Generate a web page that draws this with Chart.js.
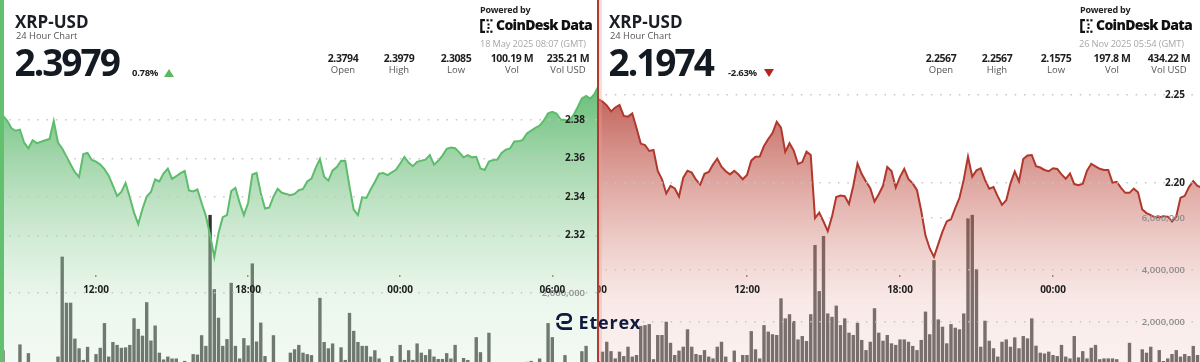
<!DOCTYPE html>
<html><head><meta charset="utf-8">
<script src="https://cdn.jsdelivr.net/npm/chart.js@4.4.1/dist/chart.umd.min.js"></script>
<style>
html,body{margin:0;padding:0;}
body{width:1200px;height:362px;overflow:hidden;position:relative;background:#fff;font-family:'Open Sans',sans-serif;color:#1a1d23;}
.abs{position:absolute;white-space:nowrap;line-height:1;}
.panel{position:absolute;top:0;height:362px;overflow:hidden;}
.panel canvas{position:absolute;top:0;}
.tri{position:absolute;width:0;height:0;border-left:5px solid transparent;border-right:5px solid transparent;}
.up{border-bottom:8px solid #5cb85c;}
.down{border-top:8px solid #b3261e;}
.sv{position:absolute;width:70px;text-align:center;font-size:10.5px;font-weight:700;color:#1e1e1e;line-height:1;letter-spacing:-0.4px;}
.sl{position:absolute;width:70px;text-align:center;font-size:9.5px;color:#555;line-height:1;}
.pw{font-size:9px;font-weight:700;color:#222;letter-spacing:-0.2px;}
.cd{font-size:14px;font-weight:800;color:#111;letter-spacing:-0.7px;}
.dt{font-size:9.3px;color:#a8a8a8;letter-spacing:-0.15px;}
</style></head>
<body>
<div class="panel" style="left:0;width:597px;"><canvas id="c1" width="598" height="400" style="left:0"></canvas></div>
<div class="panel" style="left:599px;width:601px;"><canvas id="c2" width="641" height="400" style="left:-40px"></canvas></div>
<div class="abs" style="left:0;top:0;width:4px;height:362px;background:#62c06e"></div>
<div class="abs" style="left:597px;top:0;width:2px;height:362px;background:#b23b31"></div>
<div class="abs" style="left:599px;top:0;width:3px;height:362px;background:rgba(235,160,150,0.35)"></div>

<!-- left header -->
<div class="abs" style="left:15px;top:13px;font-size:17px;font-weight:700;">XRP-USD</div>
<div class="abs" style="left:16px;top:31px;font-size:9.3px;color:#555;">24 Hour Chart</div>
<div class="abs" style="left:14.5px;top:43px;font-size:37px;font-weight:700;letter-spacing:-2px;color:#141a22;">2.3979</div>
<div class="abs" style="left:132px;top:67.5px;font-size:9.5px;font-weight:700;color:#222;letter-spacing:-0.3px;">0.78%</div>
<div class="tri up" style="left:164px;top:68.5px"></div>
<div class="abs pw" style="left:480px;top:4.5px;">Powered by</div>
<svg class="abs" style="left:480px;top:19px" width="14" height="14" viewBox="0 0 14 14"><path d="M5 1.2H1.3V12.8H5" fill="none" stroke="#111" stroke-width="2.2"/><rect x="6.5" y="0.2" width="2.2" height="2.2" fill="#111"/><rect x="10.3" y="0.2" width="2.2" height="2.2" fill="#111"/><rect x="7.5" y="4.5" width="2" height="2" fill="#111"/><rect x="7.5" y="8" width="2" height="2" fill="#111"/><rect x="6.5" y="11.6" width="2.2" height="2.2" fill="#111"/><rect x="10.3" y="11.6" width="2.2" height="2.2" fill="#111"/></svg>
<div class="abs cd" style="left:496px;top:18px;">CoinDesk Data</div>
<div class="abs dt" style="left:480px;top:38.5px;">18 May 2025 08:07 (GMT)</div>
<div class="sv" style="left:308px;top:52.5px">2.3794</div><div class="sl" style="left:308px;top:65px">Open</div>
<div class="sv" style="left:364px;top:52.5px">2.3979</div><div class="sl" style="left:364px;top:65px">High</div>
<div class="sv" style="left:421px;top:52.5px">2.3085</div><div class="sl" style="left:421px;top:65px">Low</div>
<div class="sv" style="left:477px;top:52.5px">100.19 M</div><div class="sl" style="left:477px;top:65px">Vol</div>
<div class="sv" style="left:533px;top:52.5px">235.21 M</div><div class="sl" style="left:533px;top:65px">Vol USD</div>

<!-- right header -->
<div class="abs" style="left:609px;top:13px;font-size:17px;font-weight:700;">XRP-USD</div>
<div class="abs" style="left:610px;top:31px;font-size:9.3px;color:#555;">24 Hour Chart</div>
<div class="abs" style="left:608.5px;top:43px;font-size:37px;font-weight:700;letter-spacing:-2px;color:#141a22;">2.1974</div>
<div class="abs" style="left:728px;top:67.5px;font-size:9.5px;font-weight:700;color:#222;letter-spacing:-0.3px;">-2.63%</div>
<div class="tri down" style="left:764px;top:69px"></div>
<div class="abs pw" style="left:1080px;top:4.5px;">Powered by</div>
<svg class="abs" style="left:1080px;top:19px" width="14" height="14" viewBox="0 0 14 14"><path d="M5 1.2H1.3V12.8H5" fill="none" stroke="#111" stroke-width="2.2"/><rect x="6.5" y="0.2" width="2.2" height="2.2" fill="#111"/><rect x="10.3" y="0.2" width="2.2" height="2.2" fill="#111"/><rect x="7.5" y="4.5" width="2" height="2" fill="#111"/><rect x="7.5" y="8" width="2" height="2" fill="#111"/><rect x="6.5" y="11.6" width="2.2" height="2.2" fill="#111"/><rect x="10.3" y="11.6" width="2.2" height="2.2" fill="#111"/></svg>
<div class="abs cd" style="left:1096px;top:18px;">CoinDesk Data</div>
<div class="abs dt" style="left:1079px;top:38.5px;">26 Nov 2025 05:54 (GMT)</div>
<div class="sv" style="left:906px;top:52.5px">2.2567</div><div class="sl" style="left:906px;top:65px">Open</div>
<div class="sv" style="left:962px;top:52.5px">2.2567</div><div class="sl" style="left:962px;top:65px">High</div>
<div class="sv" style="left:1021px;top:52.5px">2.1575</div><div class="sl" style="left:1021px;top:65px">Low</div>
<div class="sv" style="left:1077px;top:52.5px">197.8 M</div><div class="sl" style="left:1077px;top:65px">Vol</div>
<div class="sv" style="left:1134px;top:52.5px">434.22 M</div><div class="sl" style="left:1134px;top:65px">Vol USD</div>

<!-- watermark -->
<svg class="abs" style="left:555px;top:312px" width="19" height="19" viewBox="0 0 19 19"><path d="M2.6 8V7.5A5.2 5.2 0 0 1 7.8 2.3H11.6A4.1 4.1 0 0 1 11.6 10.5H6.5" fill="none" stroke="#0f1a3c" stroke-width="2.8"/><path d="M2.6 10.8V11.4A5.2 5.2 0 0 0 7.8 16.6H17" fill="none" stroke="#0f1a3c" stroke-width="2.8"/></svg>
<div class="abs" style="left:578.5px;top:313px;font-size:18px;font-weight:700;color:#0f1a3c;letter-spacing:0.8px;">Eterex</div>

<script>
// ---- data ----
const stepMinutes = 10;
const leftStartTime = '08:20';   // first 10-min sample shown, 17-18 May 2025
const rightStartTime = '06:10';  // first 10-min sample shown, 25-26 Nov 2025

const leftPrice = [
2.3821,2.3796,2.3757,2.3744,2.3750,2.3682,2.3653,2.3695,2.3680,2.3687,2.3695,2.3701,2.3795,2.3683,2.3652,2.3611,2.3569,2.3529,2.3504,2.3623,2.3629,2.3592,
2.3584,2.3569,2.3545,2.3511,2.3459,2.3405,2.3426,2.3473,2.3399,2.3319,
2.3260,2.3338,2.3402,2.3426,2.3491,2.3481,2.3523,2.3548,2.3494,2.3508,
2.3524,2.3535,2.3434,2.3429,2.3439,2.3369,2.3302,2.3203,2.3088,2.3213,
2.3295,2.3306,2.3431,2.3447,2.3370,2.3306,2.3369,2.3517,2.3525,2.3421,
2.3340,2.3345,2.3402,2.3442,2.3422,2.3416,2.3409,2.3416,2.3435,2.3442,
2.3481,2.3496,2.3551,2.3597,2.3505,2.3485,2.3538,2.3555,2.3588,2.3587,
2.3455,2.3334,2.3306,2.3399,2.3395,2.3439,2.3478,2.3521,2.3524,2.3514,
2.3528,2.3541,2.3574,2.3608,2.3579,2.3560,2.3583,2.3589,2.3594,2.3618,
2.3568,2.3588,2.3615,2.3650,2.3657,2.3653,2.3632,2.3606,2.3618,2.3606,
2.3609,2.3548,2.3540,2.3584,2.3592,2.3595,2.3629,2.3646,2.3652,2.3688,
2.3689,2.3697,2.3730,2.3745,2.3759,2.3771,2.3798,2.3835,2.3842,2.3834,
2.3802,2.3800,2.3795,2.3825,2.3866,2.3912,2.3925,2.3911,2.3936,2.3979];

// volume per 10 minutes, millions of XRP
const leftVolume = [
0.82,0.45,0.40,0.50,0.94,0.45,0.76,0.40,0.35,0.45,0.40,0.50,0.45,0.69,2.75,1.80,1.80,1.06,0.86,0.62,0.89,0.50,
0.74,0.87,1.38,0.69,0.99,0.93,0.87,0.88,0.93,1.48,
1.26,1.12,1.81,1.02,1.33,0.77,0.63,0.69,0.65,0.65,
0.50,0.60,0.45,0.74,0.73,1.13,0.91,3.61,2.08,1.49,
0.91,1.05,2.21,0.91,0.65,1.07,0.92,2.61,1.00,1.39,
0.70,0.50,1.13,0.45,0.50,0.40,0.77,0.84,0.93,0.77,
0.74,0.72,0.50,1.90,0.99,0.86,0.96,0.55,0.88,0.62,
1.59,1.22,0.99,0.91,0.91,0.69,0.82,0.65,0.50,0.45,
0.70,0.50,0.93,0.62,0.82,0.62,0.96,0.77,0.72,0.84,
0.69,0.64,0.64,0.76,0.65,0.93,0.50,0.66,0.62,0.50,
1.09,0.78,0.50,1.18,0.45,0.40,0.35,0.45,0.40,0.50,
0.45,0.40,0.58,0.60,0.45,0.65,0.50,1.38,1.09,0.50,
0.45,0.72,0.50,0.40,0.50,0.80,0.91,0.50,0.45,0.80];

const rightPrice = [
2.2477,2.2463,2.2441,2.2407,2.2429,2.2443,2.2381,2.2377,2.2395,2.2313,
2.2224,2.2216,2.2182,2.2188,2.2068,2.2021,2.1940,2.1983,2.1969,2.1923,
2.2030,2.2070,2.2059,2.2019,2.1991,2.2052,2.2063,2.2105,2.2139,2.2093,
2.2067,2.2049,2.2069,2.2048,2.2021,
2.2045,2.2127,2.2149,2.2150,2.2210,2.2250,2.2284,2.2348,2.2315,2.2177,
2.2226,2.2184,2.2108,2.2119,2.2178,2.2159,2.1801,2.1832,2.1781,2.1727,
2.1809,2.1920,2.1929,2.1925,2.1881,2.1983,2.2111,2.2051,2.2009,2.1970,
2.1895,2.1936,2.1984,2.2091,2.2068,2.1974,2.2035,2.2080,2.2022,2.1998,
2.1959,2.1841,2.1701,2.1628,2.1580,2.1653,2.1724,2.1782,2.1794,2.1857,
2.1916,2.2019,2.2150,2.2036,2.2072,2.2083,2.2018,2.1968,2.1977,2.1924,
2.1876,2.1902,2.1998,2.2066,2.2009,2.2136,2.2156,2.2159,2.2096,2.2088,
2.2074,2.2067,2.2084,2.2080,2.2049,2.2024,2.2054,2.1994,2.1988,2.1996,
2.2070,2.2109,2.2095,2.2081,2.2074,2.2074,2.2002,2.2007,2.1972,2.1944,
2.1944,2.1968,2.1947,2.1850,2.1829,2.1817,2.1805,2.1805,2.1810,2.1809,
2.1782,2.1810,2.1916,2.1927,2.1977,2.2011,2.1983,2.1974];

const rightVolume = [
0.50,0.86,1.24,0.88,0.60,0.86,0.69,1.05,0.67,0.73,
1.85,1.88,1.92,0.57,1.50,1.50,2.01,1.20,0.73,0.90,
1.05,1.72,1.05,0.77,0.73,0.92,0.67,0.60,1.05,1.24,
0.67,0.45,0.90,0.40,0.73,
0.73,1.65,0.95,0.60,1.88,1.63,1.53,1.50,2.91,2.14,
2.30,2.04,1.33,1.46,1.27,2.30,4.96,3.19,5.31,2.33,
2.20,2.63,1.88,2.14,1.59,1.50,1.97,1.31,0.92,1.24,
2.53,1.59,1.28,1.50,1.18,1.12,1.33,1.33,1.24,1.08,
0.92,1.31,2.40,1.53,4.38,2.10,1.82,1.18,1.92,1.78,
1.72,2.33,5.99,6.12,4.03,1.05,2.05,1.28,0.99,0.67,
1.24,1.33,1.05,1.41,0.99,1.46,1.37,2.14,1.09,0.82,
0.79,0.86,0.73,0.69,1.12,0.67,0.60,1.46,0.64,0.88,
0.60,1.01,1.12,0.57,0.60,0.60,0.60,0.57,0.40,0.45,
1.20,0.45,0.40,0.95,0.82,1.05,0.45,0.92,0.50,0.60,
0.77,0.92,0.67,0.77,0.69,1.08,0.73,0.60];

// tick labels
const leftPriceTicks = [2.32, 2.34, 2.36, 2.38];
const leftVolumeTicks = [2];          // millions
const leftTimeTicks = [12, 18, 24, 30];   // hours since start of first day
const rightPriceTicks = [2.20, 2.25];
const rightVolumeTicks = [2, 4, 6];
const rightTimeTicks = [6, 12, 18, 24];

// ---- rendering ----
Chart.defaults.font.family = "'Open Sans', sans-serif";

function hoursOf(s){ const [h, m] = s.split(':').map(Number); return h + m / 60; }
function timeAxis(start, n){ const h0 = hoursOf(start); return Array.from({length: n}, (_, i) => h0 + i * stepMinutes / 60); }
function gradient(ctx, stops){
  const g = ctx.createLinearGradient(0, 80, 0, 400);
  stops.forEach(s => g.addColorStop(s[0], s[1]));
  return g;
}
function zeroPad(s){ s.paddingTop = 0; s.paddingBottom = 0; s.paddingLeft = 0; s.paddingRight = 0; }

function makeChart(id, o){
  const t = timeAxis(o.start, o.price.length);
  return new Chart(document.getElementById(id), {
    data: {
      datasets: [
        { type: 'line', order: 1, yAxisID: 'y',
          data: o.price.map((v, i) => ({x: t[i], y: v})),
          borderColor: o.lineColor, borderWidth: 2, pointRadius: 0, tension: 0,
          fill: 'start', backgroundColor: c => gradient(c.chart.ctx, o.stops) },
        { type: 'bar', order: 2, yAxisID: 'v',
          data: o.volume.map((v, i) => ({x: t[i], y: v})),
          backgroundColor: '#2f312e', borderWidth: 0, barPercentage: 0.8, categoryPercentage: 1 }
      ]
    },
    options: {
      responsive: false, animation: false, events: [],
      layout: {padding: 0},
      plugins: {legend: {display: false}, tooltip: {enabled: false}},
      scales: {
        x: { type: 'linear', min: o.xmin, max: o.xmax, bounds: 'data', offset: false,
             position: {y: o.axisAt},
             afterBuildTicks: s => { s.ticks = o.timeTicks.map(v => ({value: v})); },
             afterFit: zeroPad,
             ticks: { callback: v => String(v % 24).padStart(2, '0') + ':00', autoSkip: false, maxRotation: 0,
                      padding: 7, color: '#1e1e1e', font: {size: 10, weight: 'bold'}, z: 2 },
             grid: { drawOnChartArea: false, drawTicks: true, tickLength: 2, color: '#666', lineWidth: 1.5, offset: false },
             border: {display: false} },
        y: { type: 'linear', position: 'right', min: o.ymin, max: o.ymax, bounds: 'data',
             afterBuildTicks: s => { s.ticks = o.priceTicks.map(v => ({value: v})); },
             afterFit: s => { s.width = 0; zeroPad(s); },
             ticks: { mirror: true, padding: -o.pad, callback: v => v.toFixed(2), color: '#1e1e1e',
                      font: {size: 10, weight: 'bold'}, z: 2 },
             grid: { drawTicks: false, color: '#c6c6c6', lineWidth: 1.5, z: 1 },
             border: { display: false, dash: [1.5, 7.8] } },
        v: { type: 'linear', position: 'right', min: o.vmin, max: o.vmax, bounds: 'data',
             afterBuildTicks: s => { s.ticks = o.volumeTicks.map(v => ({value: v})); },
             afterFit: s => { s.width = 0; zeroPad(s); },
             ticks: { mirror: true, padding: -o.pad, callback: v => (v * 1000000).toLocaleString('en-US'),
                      color: '#8c8c8c', font: {size: 9.5, weight: '600'}, z: 1.5 },
             grid: { drawTicks: false, color: '#c6c6c6', lineWidth: 1.5, z: 1 },
             border: { display: false, dash: [1.5, 7.8] } }
      }
    }
  });
}

makeChart('c1', {
  start: leftStartTime, price: leftPrice, volume: leftVolume,
  priceTicks: leftPriceTicks, volumeTicks: leftVolumeTicks, timeTicks: leftTimeTicks,
  xmin: 8.213, xmax: 31.803, ymin: 2.234545, ymax: 2.442338, vmin: -0.2062, vmax: 8.0413,
  axisAt: 2.29948, pad: 13, lineColor: '#5dbd6c',
  stops: [[0, 'rgba(70,175,90,0.85)'], [0.375, 'rgba(135,202,145,0.55)'], [0.69, 'rgba(205,235,210,0.4)'], [1, 'rgba(228,244,230,0.35)']]
});
makeChart('c2', {
  start: rightStartTime, price: rightPrice, volume: rightVolume,
  priceTicks: rightPriceTicks, volumeTicks: rightVolumeTicks, timeTicks: rightTimeTicks,
  xmin: 4.6275, xmax: 29.7647, ymin: 2.076705, ymax: 2.303977, vmin: -1.0, vmax: 14.3846,
  axisAt: 2.14773, pad: 15, lineColor: '#b0382d',
  stops: [[0, 'rgba(175,55,45,0.85)'], [0.375, 'rgba(205,115,105,0.55)'], [0.69, 'rgba(238,200,195,0.4)'], [1, 'rgba(248,228,226,0.35)']]
});
</script>
</body></html>
